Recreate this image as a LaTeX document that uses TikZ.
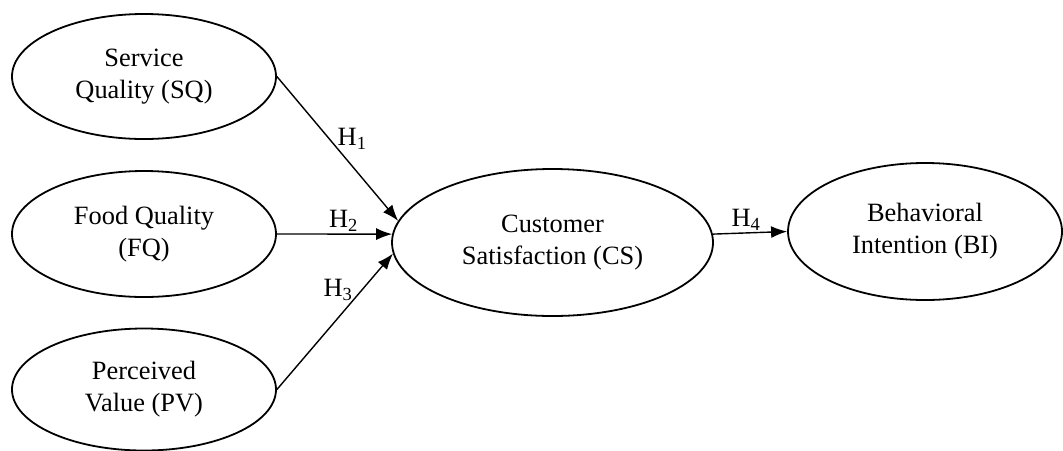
\documentclass[tikz,border=0pt]{standalone}
\usepackage{fontspec}
\setmainfont{Liberation Serif}
\usepackage{tikz}
\usetikzlibrary{shapes.geometric,arrows.meta}

\begin{document}
\begin{tikzpicture}[x=0.5pt,y=-0.5pt,
    every node/.style={font=\fontsize{13.2}{16}\selectfont},
    construct/.style={ellipse,draw,line width=0.9pt,align=center,inner sep=0pt},
    path/.style={line width=0.7pt,-{Latex[length=8pt,width=6pt]}},
    hyp/.style={inner sep=1pt}]
    \useasboundingbox (0,0) rectangle (1063,450);
    %
    \node[construct,minimum width=132pt,minimum height=62.5pt] (sq) at (144,76.5) {Service\\Quality (SQ)};
    \node[construct,minimum width=132pt,minimum height=63pt] (fq) at (144,234) {Food Quality\\(FQ)};
    \node[construct,minimum width=132pt,minimum height=61pt] (pv) at (144,389.5) {Perceived\\Value (PV)};
    \node[construct,minimum width=160.5pt,minimum height=73.5pt] (cs) at (552.5,242.5) {Customer\\Satisfaction (CS)};
    \node[construct,minimum width=137pt,minimum height=68.5pt] (bi) at (925,231.5) {Behavioral\\Intention (BI)};
    %
    \draw[path] (sq.east) -- node[hyp,pos=.43,right=3pt] {H\textsubscript{1}} (cs.172);
    \draw[path] (fq.east) -- node[hyp,pos=.58,above] {H\textsubscript{2}} (cs.177);
    \draw[path] (pv.east) -- node[hyp,pos=.73,left=3pt] {H\textsubscript{3}} (cs.184);
    \draw[path] (cs.3) -- node[hyp,pos=.45,above] {H\textsubscript{4}} (bi.west);
    %
\end{tikzpicture}
\end{document}
